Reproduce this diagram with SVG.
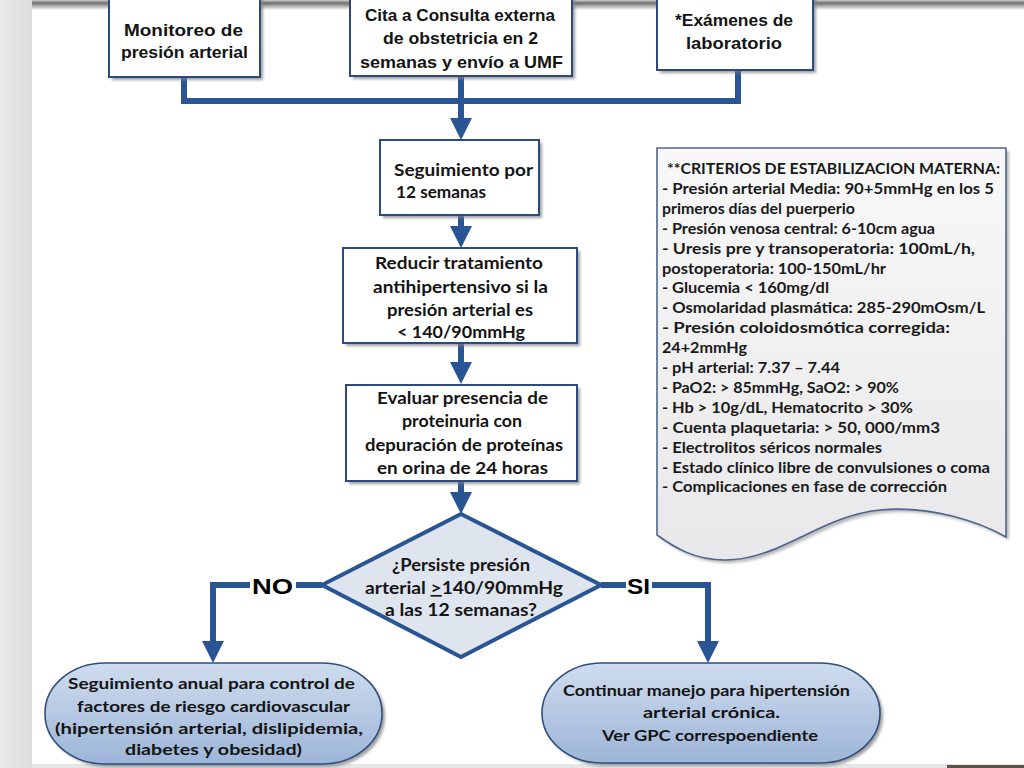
<svg xmlns="http://www.w3.org/2000/svg" width="1024" height="768" viewBox="0 0 1024 768">
<defs>
<style>
.bg{fill:#ffffff}
.box{fill:#ffffff;stroke:#2b4b80;stroke-width:2}
.shadow{fill:#7f7f7f;opacity:0.75;filter:url(#blur)}
.tb{font-family:"Liberation Sans",Arial,sans-serif;font-weight:bold;font-size:17px;fill:#141414}
.bx{font-family:Lato,"Liberation Sans",sans-serif;font-weight:bold;font-size:17px;fill:#141414}
.dt{font-family:Lato,"Liberation Sans",sans-serif;font-weight:bold;font-size:16.5px;fill:#141414}
.ov{font-family:Lato,"Liberation Sans",sans-serif;font-weight:bold;font-size:16px;fill:#141414}
.cr{font-family:Lato,"Liberation Sans",sans-serif;font-weight:bold;font-size:14.5px;fill:#1a1a1a}
.lb{font-family:"Liberation Sans",Arial,sans-serif;font-weight:bold;font-size:22px;fill:#000000}
.con{fill:none;stroke:#2a5594;stroke-width:6;stroke-linejoin:miter}
.arr{fill:none;stroke:#2a5594;stroke-width:6;marker-end:url(#ah)}
.oval{fill:url(#ovg);stroke:#2f4f7f;stroke-width:1.6}
</style>
<linearGradient id="topbar" x1="0" y1="0" x2="0" y2="1">
<stop offset="0" stop-color="#cfcfcf"/><stop offset="0.3" stop-color="#6e6e6e"/><stop offset="1" stop-color="#ffffff"/>
</linearGradient>
<linearGradient id="leftbg" x1="0" y1="0" x2="1" y2="0">
<stop offset="0" stop-color="#e9e9e9"/><stop offset="1" stop-color="#dcdcdc"/>
</linearGradient>
<linearGradient id="ovg" x1="0" y1="0" x2="0" y2="1">
<stop offset="0" stop-color="#cfdcee"/><stop offset="1" stop-color="#9db5d8"/>
</linearGradient>
<linearGradient id="noteg" x1="0" y1="0" x2="0" y2="1">
<stop offset="0" stop-color="#f8f8f8"/><stop offset="1" stop-color="#e8e8ea"/>
</linearGradient>
<filter id="blur" x="-10%" y="-10%" width="120%" height="120%"><feGaussianBlur stdDeviation="1.5"/></filter>
<marker id="ah" viewBox="0 0 22 22" refX="4" refY="11" markerWidth="22" markerHeight="22" markerUnits="userSpaceOnUse" orient="auto">
<path d="M0,0 L22,11 L0,22 Z" fill="#2a5594"/>
</marker>
</defs>

<g id="background">
<rect x="0" y="0" width="1024" height="768" class="bg"/>
<rect x="0" y="0" width="32" height="768" fill="url(#leftbg)"/>
<rect x="32" y="0" width="992" height="10" fill="url(#topbar)"/>
<rect x="32" y="764" width="992" height="4" fill="#e6e6e6"/>
<rect x="947" y="765" width="77" height="3" fill="#5b5243"/>
</g>

<g id="connectors">
<path class="con" d="M184,77 V101 H738 V70"/>
<line class="arr" x1="461" y1="76" x2="461" y2="122"/>
<line class="arr" x1="461" y1="215" x2="461" y2="230"/>
<line class="arr" x1="461" y1="343" x2="461" y2="366"/>
<line class="arr" x1="461" y1="481" x2="461" y2="496"/>
<line class="con" x1="322" y1="585" x2="296" y2="585"/>
<polyline class="arr" points="250,585 213,585 213,645"/>
<line class="con" x1="601" y1="585" x2="626" y2="585"/>
<polyline class="arr" points="652,585 708,585 708,645"/>
<text class="lb" x="252" y="594" textLength="41" lengthAdjust="spacingAndGlyphs">NO</text>
<text class="lb" x="627" y="594" textLength="23" lengthAdjust="spacingAndGlyphs">SI</text>
</g>

<g id="monitoreo">
<rect class="shadow" x="112" y="-7" width="151" height="87"/>
<rect class="box" x="109" y="-10" width="151" height="87"/>
<text class="tb" x="124" y="36" textLength="119" lengthAdjust="spacingAndGlyphs">Monitoreo de</text>
<text class="tb" x="121" y="58" textLength="127" lengthAdjust="spacingAndGlyphs">presión arterial</text>
</g>

<g id="cita">
<rect class="shadow" x="353" y="-7" width="222" height="86"/>
<rect class="box" x="350" y="-10" width="222" height="86"/>
<text class="tb" x="365" y="21" textLength="190" lengthAdjust="spacingAndGlyphs">Cita a Consulta externa</text>
<text class="tb" x="383" y="44" textLength="155" lengthAdjust="spacingAndGlyphs">de obstetricia en 2</text>
<text class="tb" x="360" y="68" textLength="203" lengthAdjust="spacingAndGlyphs">semanas y envío a UMF</text>
</g>

<g id="examenes">
<rect class="shadow" x="660" y="-7" width="156" height="80"/>
<rect class="box" x="657" y="-10" width="156" height="80"/>
<text class="tb" x="675" y="26" textLength="118" lengthAdjust="spacingAndGlyphs">*Exámenes de</text>
<text class="tb" x="686" y="49" textLength="96" lengthAdjust="spacingAndGlyphs">laboratorio</text>
</g>

<g id="seguimiento">
<rect class="shadow" x="383" y="143" width="159" height="75"/>
<rect class="box" x="380" y="140" width="159" height="75"/>
<text class="bx" x="394" y="176" textLength="139" lengthAdjust="spacingAndGlyphs">Seguimiento por</text>
<text class="bx" x="396" y="198" textLength="90" lengthAdjust="spacingAndGlyphs">12 semanas</text>
</g>

<g id="reducir">
<rect class="shadow" x="346" y="251" width="234" height="95"/>
<rect class="box" x="343" y="248" width="234" height="95"/>
<text class="bx" x="375" y="269" textLength="168" lengthAdjust="spacingAndGlyphs">Reducir tratamiento</text>
<text class="bx" x="373" y="293" textLength="175" lengthAdjust="spacingAndGlyphs">antihipertensivo si la</text>
<text class="bx" x="387" y="316" textLength="146" lengthAdjust="spacingAndGlyphs">presión arterial es</text>
<text class="bx" x="397" y="338" textLength="128" lengthAdjust="spacingAndGlyphs">&lt; 140/90mmHg</text>
</g>

<g id="evaluar">
<rect class="shadow" x="349" y="388" width="231" height="96"/>
<rect class="box" x="346" y="385" width="231" height="96"/>
<text class="bx" x="377" y="404" textLength="171" lengthAdjust="spacingAndGlyphs">Evaluar presencia de</text>
<text class="bx" x="402" y="427" textLength="120" lengthAdjust="spacingAndGlyphs">proteinuria con</text>
<text class="bx" x="365" y="451" textLength="198" lengthAdjust="spacingAndGlyphs">depuración de proteínas</text>
<text class="bx" x="377" y="474" textLength="171" lengthAdjust="spacingAndGlyphs">en orina de 24 horas</text>
</g>

<g id="decision">
<polygon points="461,514 601,585 461,657 322,585" fill="#dfe5ee" stroke="#2a5594" stroke-width="4" stroke-linejoin="miter"/>
<text class="dt" x="392" y="571" textLength="138" lengthAdjust="spacingAndGlyphs">¿Persiste presión</text>
<text class="dt" x="365" y="594" textLength="198" lengthAdjust="spacingAndGlyphs">arterial  <tspan text-decoration="underline">&gt;</tspan>140/90mmHg</text>
<text class="dt" x="385" y="616" textLength="152" lengthAdjust="spacingAndGlyphs">a las 12 semanas?</text>
</g>

<g id="criterios">
<path d="M660,151 H1009 V540 C983,525 933,508 883,513 C823,519 783,563 728,563 C698,563 678,551 660,538 Z" fill="#8a8a8a" opacity="0.6" filter="url(#blur)"/>
<path d="M657,148 H1006 V537 C980,522 930,505 880,510 C820,516 780,560 725,560 C695,560 675,548 657,535 Z" fill="url(#noteg)" stroke="#4d6690" stroke-width="1.6"/>
<text class="cr" x="667" y="174" textLength="333" lengthAdjust="spacingAndGlyphs">**CRITERIOS DE ESTABILIZACION MATERNA:</text>
<text class="cr" x="662" y="193.9" textLength="332" lengthAdjust="spacingAndGlyphs">- Presión arterial Media: 90+5mmHg en los 5</text>
<text class="cr" x="662" y="213.8" textLength="193" lengthAdjust="spacingAndGlyphs">primeros días del puerperio</text>
<text class="cr" x="662" y="233.7" textLength="273" lengthAdjust="spacingAndGlyphs">- Presión venosa central: 6-10cm agua</text>
<text class="cr" x="662" y="253.6" textLength="313" lengthAdjust="spacingAndGlyphs">- Uresis pre y transoperatoria: 100mL/h,</text>
<text class="cr" x="662" y="273.5" textLength="224" lengthAdjust="spacingAndGlyphs">postoperatoria: 100-150mL/hr</text>
<text class="cr" x="662" y="293.4" textLength="167" lengthAdjust="spacingAndGlyphs">- Glucemia &lt; 160mg/dl</text>
<text class="cr" x="662" y="313.3" textLength="323" lengthAdjust="spacingAndGlyphs">- Osmolaridad plasmática: 285-290mOsm/L</text>
<text class="cr" x="662" y="333.2" textLength="288" lengthAdjust="spacingAndGlyphs">- Presión coloidosmótica corregida:</text>
<text class="cr" x="662" y="353.1" textLength="85" lengthAdjust="spacingAndGlyphs">24+2mmHg</text>
<text class="cr" x="662" y="373" textLength="178" lengthAdjust="spacingAndGlyphs">- pH arterial: 7.37 – 7.44</text>
<text class="cr" x="662" y="392.9" textLength="237" lengthAdjust="spacingAndGlyphs">- PaO2: &gt; 85mmHg, SaO2: &gt; 90%</text>
<text class="cr" x="662" y="412.8" textLength="251" lengthAdjust="spacingAndGlyphs">- Hb &gt; 10g/dL, Hematocrito  &gt; 30%</text>
<text class="cr" x="662" y="432.7" textLength="278" lengthAdjust="spacingAndGlyphs">- Cuenta plaquetaria:  &gt; 50, 000/mm3</text>
<text class="cr" x="662" y="452.6" textLength="220" lengthAdjust="spacingAndGlyphs">- Electrolitos séricos normales</text>
<text class="cr" x="662" y="472.5" textLength="328" lengthAdjust="spacingAndGlyphs">- Estado clínico libre de convulsiones o coma</text>
<text class="cr" x="662" y="492.4" textLength="285" lengthAdjust="spacingAndGlyphs">- Complicaciones en fase de corrección</text>
</g>

<g id="anual">
<rect class="shadow" x="48" y="666" width="337" height="101" rx="60" ry="50"/>
<rect class="oval" x="45" y="663" width="337" height="101" rx="60" ry="50"/>
<text class="ov" x="68" y="689" textLength="287" lengthAdjust="spacingAndGlyphs">Seguimiento anual para control de</text>
<text class="ov" x="77" y="712" textLength="273" lengthAdjust="spacingAndGlyphs">factores de riesgo cardiovascular</text>
<text class="ov" x="55" y="734" textLength="308" lengthAdjust="spacingAndGlyphs">(hipertensión arterial, dislipidemia,</text>
<text class="ov" x="125" y="755" textLength="177" lengthAdjust="spacingAndGlyphs">diabetes y obesidad)</text>
</g>

<g id="continuar">
<rect class="shadow" x="545" y="666" width="338" height="100" rx="60" ry="50"/>
<rect class="oval" x="542" y="663" width="338" height="100" rx="60" ry="50"/>
<text class="ov" x="563" y="696" textLength="287" lengthAdjust="spacingAndGlyphs">Continuar manejo para hipertensión</text>
<text class="ov" x="643" y="718" textLength="137" lengthAdjust="spacingAndGlyphs">arterial crónica.</text>
<text class="ov" x="602" y="741" textLength="216" lengthAdjust="spacingAndGlyphs">Ver GPC correspoendiente</text>
</g>
</svg>
